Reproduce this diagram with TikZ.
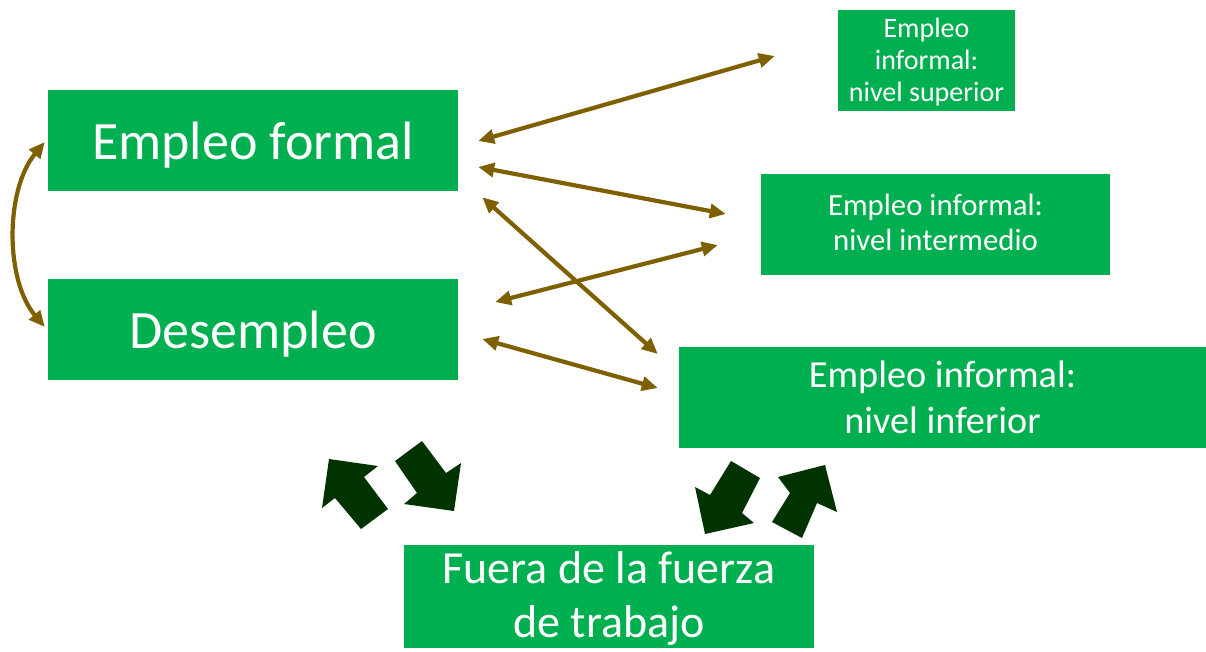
\documentclass[tikz,border=0pt]{standalone}
\usepackage{fontspec}
\setmainfont{Carlito}
\usetikzlibrary{arrows.meta,calc}
\definecolor{boxgreen}{HTML}{00B050}
\definecolor{linkbrown}{HTML}{7F6000}
\definecolor{darkarrow}{HTML}{003300}
\newcommand\lowtext[2]{\raisebox{0pt}[\height][\dimexpr\depth-#1*2\relax]{\begin{tabular}{@{}c@{}}#2\end{tabular}}}
\tikzset{
  gbox/.style={fill=boxgreen, text=white, inner sep=0pt, align=center, anchor=center},
  link/.style={linkbrown, line width=4.2pt, {Triangle[length=16pt,width=14pt]}-{Triangle[length=16pt,width=14pt]}},
  blockarrow/.style={fill=darkarrow}
}
\begin{document}
\begin{tikzpicture}[x=1pt,y=-1pt]
\useasboundingbox (0,0) rectangle (1206,651);
\node[gbox, minimum width=410pt, minimum height=101pt, font=\fontsize{54}{60}\selectfont] (formal) at (253,140.5) {\lowtext{6.5pt}{Empleo formal}};
\node[gbox, minimum width=410pt, minimum height=101pt, font=\fontsize{54}{60}\selectfont] (desempleo) at (253,329.5) {\lowtext{6.5pt}{Desempleo}};
\node[gbox, minimum width=177pt, minimum height=101pt, font=\fontsize{28}{32}\selectfont] (superior) at (926.5,60.5) {\lowtext{3pt}{Empleo\\informal:\\nivel superior}};
\node[gbox, minimum width=349pt, minimum height=101pt, font=\fontsize{30.8}{35}\selectfont] (intermedio) at (935.5,224.5) {\lowtext{1pt}{Empleo informal:\\nivel intermedio}};
\node[gbox, minimum width=527pt, minimum height=101pt, font=\fontsize{38.3}{46}\selectfont] (inferior) at (942.5,397.5) {\lowtext{3.3pt}{Empleo informal:\\nivel inferior}};
\node[gbox, minimum width=410pt, minimum height=103pt, font=\fontsize{46}{54}\selectfont] (fuera) at (609,596.5) {\lowtext{2.8pt}{Fuera de la fuerza\\de trabajo}};

\draw[link] ([shift={(20,0.5)}]formal.east) -- ([shift={(-63,-4.5)}]superior.west);
\draw[link] ([shift={(20,26.5)}]formal.east) -- ([shift={(-35,-10.5)}]intermedio.west);
\draw[link] ([shift={(24,6)}]formal.south east) -- ([shift={(-21,-43.5)}]inferior.west);
\draw[link] ([shift={(37,-27.5)}]desempleo.east) -- ([shift={(-43,20.5)}]intermedio.west);
\draw[link] ([shift={(24,9.5)}]desempleo.east) -- ([shift={(-21,-9.5)}]inferior.west);
\draw[link] ([shift={(-3,1.5)}]formal.west) .. controls (5,190) and (5,280) .. ([shift={(-3,-2.5)}]desempleo.west);

\fill[blockarrow] (329,459) -- (378,466) -- (364,477) -- (388,509) -- (361,529) -- (335,498) -- (322,508) -- cycle;
\fill[blockarrow] (454,511) -- (404,504) -- (417,493) -- (395,461) -- (422,441) -- (446,473) -- (461,463) -- cycle;
\fill[blockarrow] (705,534) -- (695,487) -- (710,495) -- (731,461) -- (760,478) -- (742,513) -- (754,523) -- cycle;
\fill[blockarrow] (825,465) -- (837,512) -- (817,503) -- (802,538) -- (772,522) -- (790,493) -- (778,477) -- cycle;
\end{tikzpicture}
\end{document}
